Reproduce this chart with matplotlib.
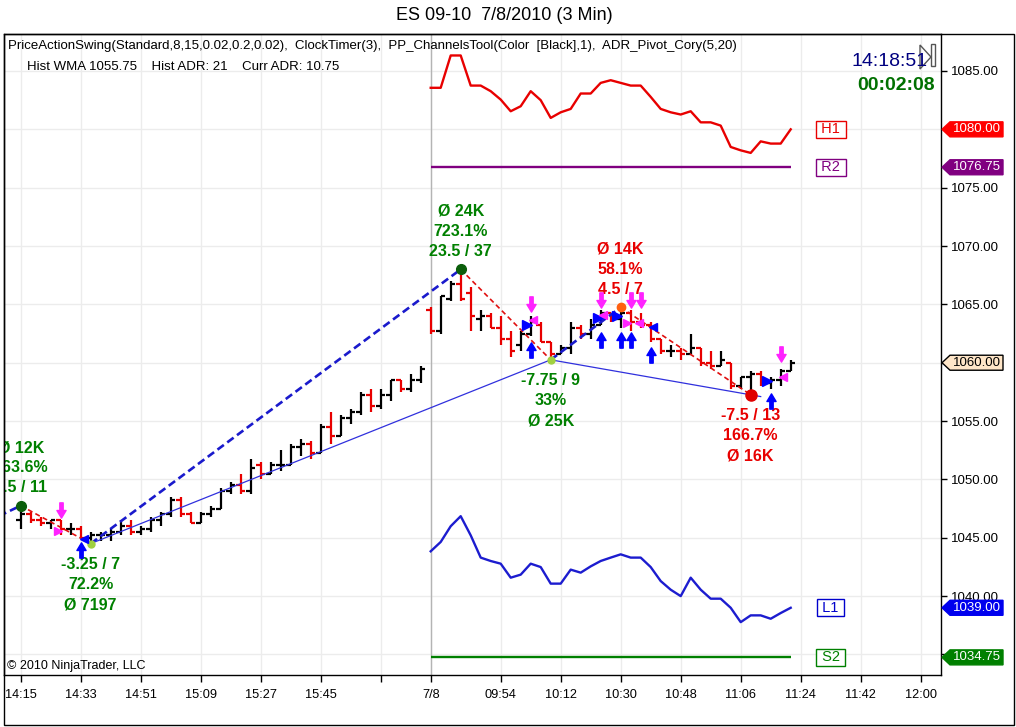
import numpy as np
import matplotlib
matplotlib.use('Agg')
import matplotlib.pyplot as plt
from matplotlib.path import Path
from matplotlib.patches import Rectangle, Polygon

plt.rcParams['font.family'] = ['Liberation Sans', 'DejaVu Sans']

# ---------------- data ----------------
time_tick_bars = [0, 6, 12, 18, 24, 30, 36, 41, 48, 54, 60, 66, 72, 78, 84, 90]
time_tick_labels = ['14:15', '14:33', '14:51', '15:09', '15:27', '15:45', '',
                    '7/8', '09:54', '10:12', '10:30', '10:48', '11:06', '11:24',
                    '11:42', '12:00']
price_grid = [1035, 1040, 1045, 1050, 1055, 1060, 1065, 1070, 1075, 1080, 1085]

opens = [1046.50, 1047.00, 1046.50, 1046.25, 1046.50, 1045.75, 1045.75, 1045.00,
         1045.25, 1045.25, 1045.50, 1046.00, 1045.50, 1045.75, 1046.50, 1047.00,
         1048.25, 1047.00, 1046.25, 1047.00, 1047.50, 1049.00, 1049.50, 1049.00,
         1051.25, 1050.50, 1051.25, 1051.25, 1052.75, 1053.00, 1052.25, 1054.50,
         1053.75, 1055.25, 1055.75, 1057.25, 1056.25, 1057.25, 1058.50, 1057.75,
         1058.50,
         1064.50, 1062.75, 1065.50, 1066.75, 1066.00, 1063.75, 1064.00, 1063.00,
         1062.00, 1061.50, 1062.50, 1063.25, 1061.75, 1060.75, 1061.25, 1063.00,
         1062.50, 1063.25, 1064.25, 1063.75, 1064.25, 1063.50, 1063.25, 1062.00,
         1061.00, 1061.00, 1060.75, 1061.25, 1060.00, 1059.75, 1060.00, 1058.00,
         1058.75, 1059.00, 1058.25, 1058.50, 1059.25]
highs = [1047.75, 1047.25, 1046.75, 1046.50, 1046.50, 1046.25, 1046.00, 1045.50,
         1045.50, 1045.75, 1046.50, 1046.50, 1046.00, 1046.75, 1047.25, 1048.50,
         1048.50, 1047.25, 1047.25, 1047.75, 1049.25, 1049.75, 1050.50, 1051.75,
         1051.50, 1051.50, 1052.50, 1053.00, 1053.50, 1053.25, 1054.75, 1055.75,
         1055.50, 1056.00, 1057.50, 1057.75, 1057.75, 1058.50, 1058.50, 1059.00,
         1059.75,
         1064.75, 1065.75, 1067.00, 1068.00, 1066.50, 1064.50, 1064.25, 1064.00,
         1062.75, 1062.75, 1064.00, 1063.50, 1061.75, 1061.50, 1063.50, 1063.25,
         1063.75, 1064.50, 1064.25, 1064.75, 1064.50, 1064.25, 1063.50, 1062.00,
         1061.50, 1061.25, 1062.50, 1061.25, 1061.00, 1061.00, 1060.00, 1058.75,
         1059.25, 1059.25, 1058.75, 1059.50, 1060.25]
lows = [1045.75, 1046.25, 1046.00, 1045.75, 1045.25, 1045.25, 1045.00, 1044.50,
        1044.75, 1044.75, 1045.25, 1045.25, 1045.25, 1045.50, 1046.00, 1046.75,
        1046.75, 1046.25, 1046.25, 1046.75, 1047.50, 1048.75, 1048.75, 1048.75,
        1050.00, 1050.50, 1050.75, 1051.25, 1052.00, 1051.75, 1052.25, 1053.00,
        1053.75, 1054.75, 1055.50, 1055.75, 1056.00, 1056.75, 1057.50, 1057.50,
        1058.25,
        1062.50, 1062.50, 1065.25, 1065.25, 1062.75, 1062.75, 1063.00, 1061.50,
        1060.50, 1061.00, 1062.25, 1061.75, 1060.25, 1060.75, 1060.75, 1062.00,
        1062.00, 1063.25, 1063.50, 1063.00, 1062.75, 1063.00, 1061.75, 1060.75,
        1060.50, 1060.25, 1060.75, 1059.75, 1059.50, 1059.75, 1057.75, 1057.75,
        1057.25, 1058.00, 1057.75, 1058.00, 1059.25]
closes = [1047.00, 1046.50, 1046.25, 1046.50, 1045.75, 1045.75, 1045.00, 1045.25,
          1045.25, 1045.50, 1046.00, 1045.50, 1045.75, 1046.50, 1047.00, 1048.25,
          1047.00, 1046.25, 1047.00, 1047.50, 1049.00, 1049.50, 1049.00, 1051.00,
          1050.50, 1051.25, 1051.25, 1052.75, 1053.00, 1052.25, 1054.50, 1053.75,
          1055.25, 1055.75, 1057.25, 1056.25, 1057.25, 1058.50, 1057.75, 1058.50,
          1059.50,
          1062.75, 1065.75, 1066.75, 1065.50, 1064.00, 1064.00, 1063.00, 1062.00,
          1061.00, 1062.50, 1063.50, 1061.75, 1060.75, 1061.25, 1063.00, 1062.50,
          1063.25, 1064.25, 1063.75, 1064.25, 1063.50, 1063.25, 1062.00, 1061.00,
          1061.00, 1060.75, 1061.25, 1060.00, 1059.75, 1060.25, 1058.00, 1058.75,
          1059.00, 1058.25, 1058.50, 1059.25, 1060.00]

channel_start_bar = 41
h1_values = [1083.56, 1083.56, 1086.33, 1086.33, 1083.75, 1083.75, 1083.27, 1082.55,
             1081.55, 1081.98, 1083.27, 1082.50, 1080.98, 1081.46, 1081.75, 1083.07,
             1083.07, 1083.98, 1084.21, 1083.98, 1083.75, 1083.75, 1082.78, 1081.75,
             1081.46, 1081.27, 1081.55, 1080.60, 1080.60, 1080.32, 1078.49, 1078.20,
             1077.98, 1078.97, 1078.78, 1078.78, 1080.00]
l1_values = [1043.84, 1044.64, 1045.99, 1046.85, 1045.21, 1043.30, 1043.01, 1042.78,
             1041.58, 1041.84, 1042.78, 1042.49, 1041.07, 1041.07, 1042.27, 1042.01,
             1042.55, 1043.01, 1043.30, 1043.58, 1043.30, 1043.30, 1042.49, 1041.29,
             1040.55, 1040.00, 1041.58, 1040.55, 1039.78, 1039.78, 1039.00, 1037.77,
             1038.35, 1038.35, 1038.06, 1038.55, 1039.00]
r2_level = 1076.75
s2_level = 1034.75

# swing points (first one is off-screen to the left)
swing_bars = [-11, 0, 7, 44, 53, 60, 73]
swing_prices = [1043.25, 1047.75, 1044.50, 1068.00, 1060.25, 1064.75, 1057.25]
swing_labels = [None,
                ['Ø 12K', '163.6%', '4.5 / 11'],
                ['-3.25 / 7', '72.2%', 'Ø 7197'],
                ['Ø 24K', '723.1%', '23.5 / 37'],
                ['-7.75 / 9', '33%', 'Ø 25K'],
                ['Ø 14K', '58.1%', '4.5 / 7'],
                ['-7.5 / 13', '166.7%', 'Ø 16K']]
swing_label_colors = [None, 'green', 'green', 'green', 'green', 'red', 'red']

# signal markers (bar, price)
sell_arrow_bars = [4, 51, 58, 61, 62, 76]
sell_arrow_prices = [1047.38, 1065.04, 1065.38, 1065.38, 1065.38, 1060.75]
buy_arrow_bars = [6, 51, 58, 60, 61, 63, 75]
buy_arrow_prices = [1043.95, 1061.09, 1061.95, 1061.95, 1061.95, 1060.66, 1056.72]
blue_right_tri_bars = [50.6, 57.7, 59.6, 74.6]
blue_right_tri_prices = [1063.25, 1063.85, 1064.0, 1058.4]
blue_left_tri_bars = [6.3, 63.2]
blue_left_tri_prices = [1044.9, 1063.1]
mag_left_tri_bars = [51.2, 58.2, 61.8, 76.2]
mag_left_tri_prices = [1063.7, 1064.1, 1063.4, 1058.75]
mag_right_tri_bars = [3.7, 60.6]
mag_right_tri_prices = [1045.6, 1063.4]

# ---------------- figure ----------------
W, H = 1016, 727
fig = plt.figure(figsize=(W / 100, H / 100), dpi=100)
fig.patch.set_facecolor('white')
ax = fig.add_axes([4 / W, (H - 675) / H, (941 - 4) / W, (675 - 34) / H])
ax.set_xlim(-1.67, 92.03)
ax.set_ylim(1033.24, 1088.17)

RED = '#e80000'
GREEN = '#008000'
BLUE = '#1c1ccf'
PURPLE = '#800080'
MAG = '#ff22ff'

# grid & ticks
ax.set_xticks(time_tick_bars)
ax.set_xticklabels(time_tick_labels)
ax.set_yticks(price_grid)
hidden = {1035, 1060, 1080}
ax.set_yticklabels(['' if p in hidden else '%.2f' % p for p in price_grid])
ax.yaxis.tick_right()
ax.grid(True, color='#ececec', lw=1, zorder=0)
ax.set_axisbelow(True)
ax.axvline(channel_start_bar, color='#b4b4b4', lw=1, zorder=1)
ax.tick_params(axis='x', direction='out', length=5, width=1, labelsize=9.2, pad=5)
ax.tick_params(axis='y', direction='out', length=4, width=1, labelsize=9.5, pad=3)
for s in ax.spines.values():
    s.set_color('black')
    s.set_linewidth(1)

# OHLC bars
bars = np.arange(len(opens))
o = np.array(opens); c = np.array(closes)
cols = ['black' if cc >= oo else RED for oo, cc in zip(o, c)]
ax.vlines(bars, lows, highs, colors=cols, lw=1.6, zorder=3)
ax.hlines(o, bars - 0.45, bars, colors=cols, lw=1.6, zorder=3)
ax.hlines(c, bars, bars + 0.45, colors=cols, lw=1.6, zorder=3)

# channel lines
chan_bars = np.arange(channel_start_bar, channel_start_bar + len(h1_values))
ax.plot(chan_bars, h1_values, color=RED, lw=1.7, zorder=2)
ax.plot(chan_bars, l1_values, color=BLUE, lw=1.7, zorder=2)
ax.hlines(r2_level, chan_bars[0], chan_bars[-1], color=PURPLE, lw=1.7, zorder=2)
ax.hlines(s2_level, chan_bars[0], chan_bars[-1], color=GREEN, lw=1.7, zorder=2)

# swing lines
for k in range(len(swing_bars) - 1):
    up = swing_prices[k + 1] > swing_prices[k]
    if up:
        ax.plot(swing_bars[k:k + 2], swing_prices[k:k + 2], color='#1a1acc', lw=1.9,
                ls=(0, (3, 1.6)), zorder=4)
    else:
        ax.plot(swing_bars[k:k + 2], swing_prices[k:k + 2], color='#e01010', lw=1.2,
                ls=(0, (3, 2)), zorder=4)

# thin lines connecting swing lows
lb = [swing_bars[2], swing_bars[4]]
lp = [swing_prices[2], swing_prices[4]]
ax.plot(lb, lp, color='#3030dd', lw=0.9, zorder=4)
slope = (swing_prices[6] - swing_prices[4]) / (swing_bars[6] - swing_bars[4])
ext = swing_bars[6] + 1
ax.plot([swing_bars[4], ext], [swing_prices[4], swing_prices[4] + slope * (ext - swing_bars[4])],
        color='#3030dd', lw=0.9, zorder=4)

# swing dots
dot_styles = [None, ('#0b5e0b', 7), ('#a0d040', 5), ('#0b5e0b', 7), ('#a0d040', 5),
              ('#ff6010', 6), ('#e00000', 8)]
for b, p, st in zip(swing_bars, swing_prices, dot_styles):
    if st is None:
        continue
    ax.plot([b], [p], 'o', color=st[0], ms=st[1], zorder=6)

# swing labels
for b, p, lines, colr, k in zip(swing_bars, swing_prices, swing_labels, swing_label_colors,
                                range(len(swing_bars))):
    if lines is None:
        continue
    is_high = (k % 2 == 1)
    if is_high:
        offs = [58, 38, 18]
    else:
        offs = [-21, -41, -61]
    tc = GREEN if colr == 'green' else RED
    for t, off in zip(lines, offs):
        ax.annotate(t, xy=(b, p), xytext=(0, off), textcoords='offset pixels',
                    ha='center', va='center', fontsize=11.5, fontweight='bold',
                    color=tc, clip_on=True, zorder=7)

# arrow markers
down_arrow = Path([(-0.11, 0.5), (0.11, 0.5), (0.11, 0.0), (0.3, 0.0), (0.0, -0.5),
                   (-0.3, 0.0), (-0.11, 0.0), (-0.11, 0.5)],
                  [Path.MOVETO] + [Path.LINETO] * 6 + [Path.CLOSEPOLY])
up_arrow = Path([(x, -y) for x, y in down_arrow.vertices], down_arrow.codes)
ax.plot(sell_arrow_bars, sell_arrow_prices, ls='none', marker=down_arrow, ms=11,
        color=MAG, mec=MAG, zorder=8)
ax.plot(buy_arrow_bars, buy_arrow_prices, ls='none', marker=up_arrow, ms=11,
        color='#0000ff', mec='#0000ff', zorder=8)
ax.plot(blue_right_tri_bars, blue_right_tri_prices, ls='none', marker='>', ms=7,
        color='#0000ff', zorder=8)
ax.plot(blue_left_tri_bars, blue_left_tri_prices, ls='none', marker='<', ms=6,
        color='#0000ff', zorder=8)
ax.plot(mag_left_tri_bars, mag_left_tri_prices, ls='none', marker='<', ms=6,
        color=MAG, zorder=8)
ax.plot(mag_right_tri_bars, mag_right_tri_prices, ls='none', marker='>', ms=6,
        color=MAG, zorder=8)

# channel name boxes
for name, val, colr in [('H1', h1_values[-1], RED), ('R2', r2_level, PURPLE),
                        ('L1', l1_values[-1], '#0000cc'), ('S2', s2_level, GREEN)]:
    ax.annotate(' ' + name + ' ', xy=(chan_bars[-1], val), xytext=(40, 0),
                textcoords='offset pixels', ha='center', va='center', fontsize=10.5,
                color=colr, annotation_clip=False, zorder=7,
                bbox=dict(boxstyle='square,pad=0.1', fc='white', ec=colr, lw=1))

# price tags on right axis
px_x = 1.0 / 937
px_y = (1088.17 - 1033.24) / 641
tags = [(h1_values[-1], '#ff0000', 'white', '#ff0000'),
        (r2_level, PURPLE, 'white', PURPLE),
        (closes[-1], '#ffe6c8', 'black', 'black'),
        (l1_values[-1], '#0000ee', 'white', '#0000ee'),
        (s2_level, GREEN, 'white', GREEN)]
tr = ax.get_yaxis_transform()
for v, fc, tc, ec in tags:
    hh = 7.5 * px_y
    poly = Polygon([[1.0 + 1 * px_x, v], [1 + 9 * px_x, v + hh], [1 + 62 * px_x, v + hh],
                    [1 + 62 * px_x, v - hh], [1 + 9 * px_x, v - hh]], closed=True,
                   transform=tr, clip_on=False, fc=fc, ec=ec, lw=1, zorder=10)
    ax.add_patch(poly)
    ax.text(1 + 36 * px_x, v, '%.2f' % v, transform=tr, ha='center', va='center',
            fontsize=9.5, color=tc, clip_on=False, zorder=11)

# outer frame
fig.add_artist(Rectangle((4 / W, 2 / H), (1014 - 4) / W, (725 - 34) / H, fill=False,
                         ec='black', lw=1, transform=fig.transFigure))

# texts
fig.text(504 / W, 1 - 16 / H, 'ES 09-10  7/8/2010 (3 Min)', ha='center', va='center',
         fontsize=13)
fig.text(8 / W, 1 - 46 / H,
         'PriceActionSwing(Standard,8,15,0.02,0.2,0.02),  ClockTimer(3),  '
         'PP_ChannelsTool(Color  [Black],1),  ADR_Pivot_Cory(5,20)',
         ha='left', va='center', fontsize=9.5)
fig.text(27 / W, 1 - 67 / H, 'Hist WMA 1055.75    Hist ADR: 21    Curr ADR: 10.75',
         ha='left', va='center', fontsize=9.5)
fig.text(928 / W, 1 - 61 / H, '14:18:51', ha='right', va='center', fontsize=14,
         color='#000080')
fig.text(935 / W, 1 - 86 / H, '00:02:08', ha='right', va='center', fontsize=14,
         fontweight='bold', color='#007000')
fig.text(7 / W, 1 - 666 / H, '© 2010 NinjaTrader, LLC', ha='left', va='center',
         fontsize=9)

# small clock icon
fig.add_artist(Polygon([[920 / W, 1 - 45 / H], [931 / W, 1 - 57 / H], [920 / W, 1 - 69 / H]],
                       closed=True, fill=False, ec='#555555', lw=1, transform=fig.transFigure))
fig.add_artist(Rectangle((931 / W, 1 - 66 / H), 4 / W, 22 / H, fill=False, ec='#555555',
                         lw=1, transform=fig.transFigure))

fig.savefig('out.png', dpi=100)
